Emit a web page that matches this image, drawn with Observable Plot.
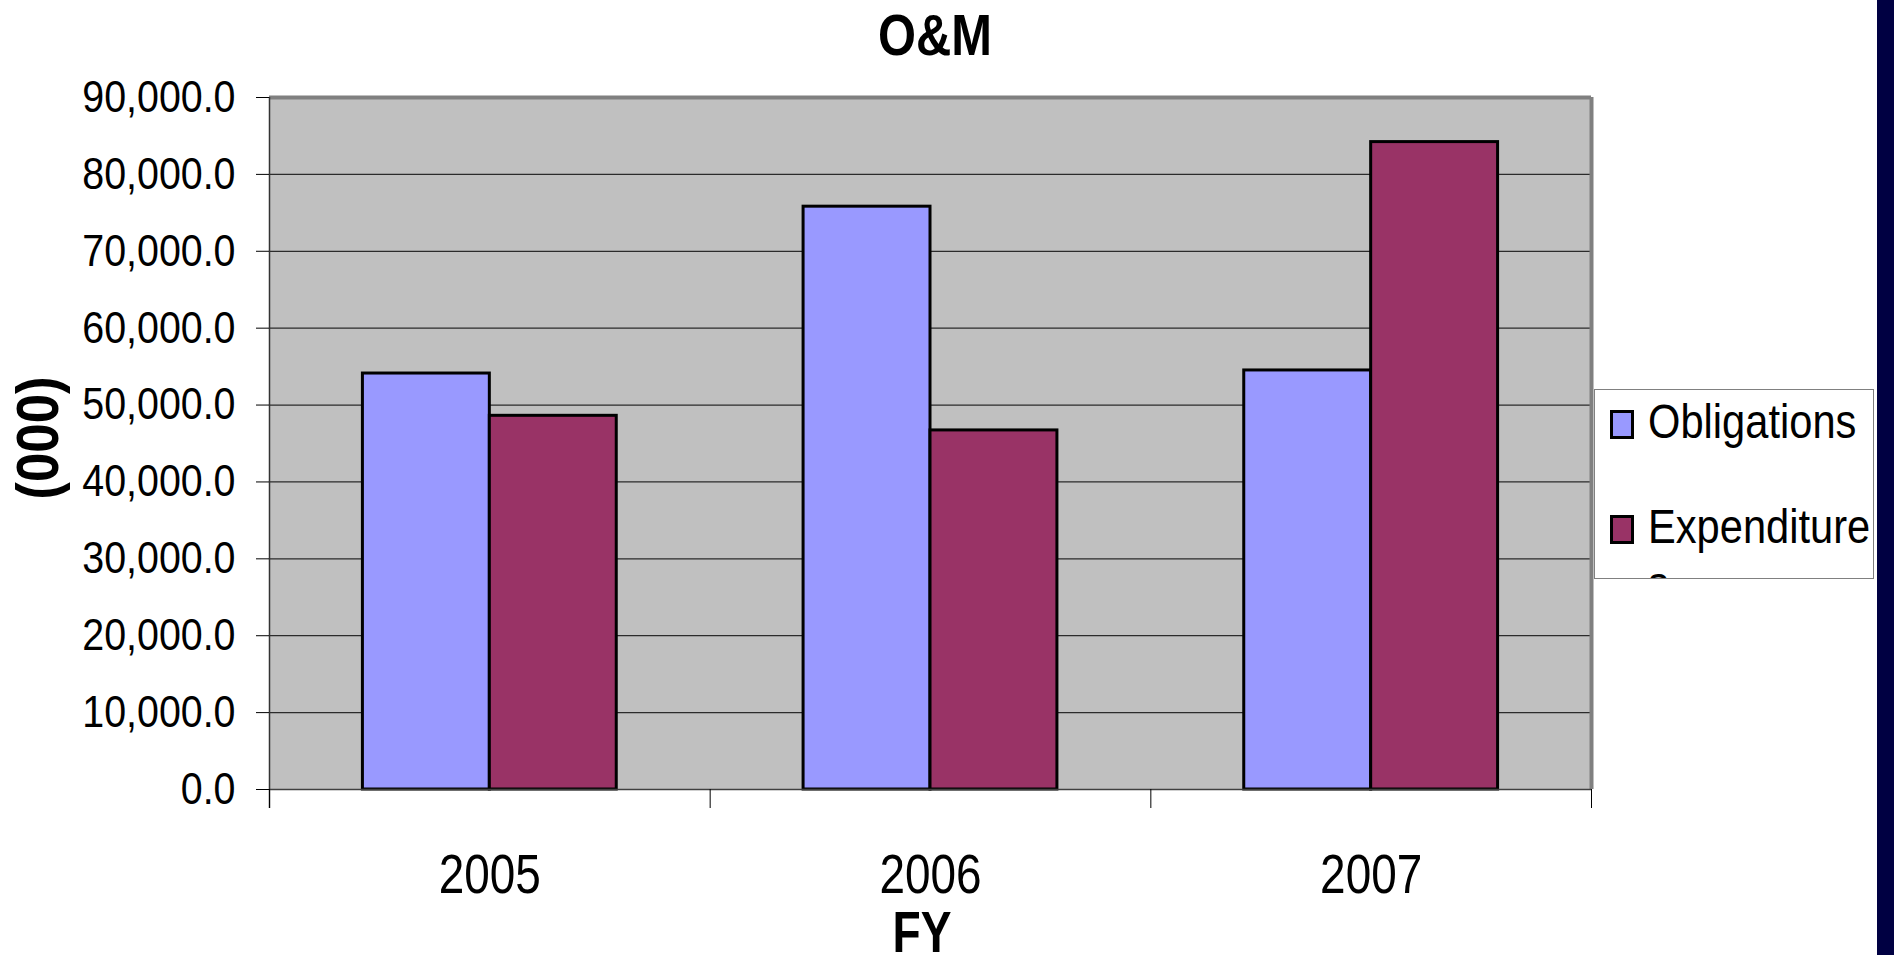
<!DOCTYPE html>
<html>
<head>
<meta charset="utf-8">
<script src="https://cdn.jsdelivr.net/npm/d3@7"></script>
<script src="https://cdn.jsdelivr.net/npm/@observablehq/plot@0.6"></script>
<style>
  html, body { margin: 0; padding: 0; background: #fff; }
  #wrap { position: relative; width: 1894px; height: 955px; overflow: hidden; background: #fff;
          font-family: "Liberation Sans", Arial, sans-serif; color: #000; }
  #chart { position: absolute; left: 0; top: 0; }
  #strip { position: absolute; left: 1877px; top: 0; width: 17px; height: 955px; background: #000042; }
  #title { position: absolute; left: 0; width: 1870px; top: 7px; text-align: center;
           font-weight: bold; font-size: 57px; line-height: 1; white-space: nowrap;
           transform: scaleX(0.857); transform-origin: 50% 50%; }
  #xlabel { position: absolute; left: 722px; width: 400px; top: 912px; text-align: center;
            font-weight: bold; font-size: 57px; line-height: 40px; white-space: nowrap;
            transform: scaleX(0.81); transform-origin: 50% 50%; }
  #ylabel { position: absolute; left: 38px; top: 438px;
            transform: translate(-50%, -50%) rotate(-90deg) scaleX(0.88);
            font-weight: bold; font-size: 60px; line-height: 1; white-space: nowrap; }
  #legend { position: absolute; left: 1594px; top: 389px; width: 280px; height: 190px;
            box-sizing: border-box; border: 1px solid #808080; background: #fff; overflow: hidden; }
  .sw { position: absolute; left: 15px; width: 24px; height: 29px; box-sizing: border-box; border: 3px solid #000; }
  .lt { position: absolute; left: 53px; font-size: 49px; line-height: 57px; width: 270px;
        word-break: break-all; transform: scaleX(0.85); transform-origin: 0 0; }
</style>
</head>
<body>
<div id="wrap">
  <div id="chart"></div>
  <div id="title"></div>
  <div id="xlabel"></div>
  <div id="ylabel"></div>
  <div id="legend"></div>
  <div id="strip"></div>
</div>
<script>
// ---- data ----
const chartTitle = "O&M";
const xTitle = "FY";
const yTitle = "(000)";
const years = ["2005", "2006", "2007"];
const series = ["Obligations", "Expenditures"];
const obligations = [54100, 75800, 54500];
const expenditures = [48600, 46700, 84200];
const yTicks = [0, 10000, 20000, 30000, 40000, 50000, 60000, 70000, 80000, 90000];
const seriesColors = ["#9999ff", "#993366"];

// ---- table ----
const values = {Obligations: obligations, Expenditures: expenditures};
const rows = years.flatMap((year, i) => series.map(s => ({year, idx: i, series: s, value: values[s][i]})));

// position of each series inside its year band (in data units of the year index)
const inner = d3.scaleBand().domain(series).range([0, 1]).paddingInner(0).paddingOuter(0.736);

const fontFamily = '"Liberation Sans", Arial, sans-serif';

const plot = Plot.plot({
  width: 1877,
  height: 955,
  marginTop: 97,
  marginLeft: 269,
  marginRight: 286,
  marginBottom: 166,
  style: {fontFamily, background: "transparent", color: "#000", overflow: "visible"},
  x: {type: "linear", domain: [0, years.length], label: null},
  y: {domain: [0, 90000], label: null},
  color: {domain: series, range: seriesColors},
  marks: [
    Plot.frame({fill: "#c0c0c0", stroke: null}),
    Plot.ruleY(yTicks.filter(d => d > 0 && d < 90000), {stroke: "#2b2b2b", strokeWidth: 1.3}),
    Plot.ruleY([90000], {stroke: "#808080", strokeWidth: 4}),
    Plot.ruleX([years.length], {stroke: "#808080", strokeWidth: 4}),
    Plot.rectY(rows, {
      x1: d => d.idx + inner(d.series),
      x2: d => d.idx + inner(d.series) + inner.bandwidth(),
      y1: 0,
      y2: "value",
      fill: "series",
      stroke: "#000",
      strokeWidth: 3
    }),
    Plot.ruleY([0], {stroke: "#404040", strokeWidth: 1.5}),
    Plot.ruleX([0], {stroke: "#333", strokeWidth: 1.5, insetBottom: -19}),
    Plot.axisY(yTicks, {
      tickSize: 13, tickPadding: 21, fontSize: 45, label: null,
      tickFormat: d3.format(",.1f")
    }),
    Plot.axisX(years.map((d, i) => i + 0.5), {
      tickSize: 0, tickPadding: 64, fontSize: 56, label: null,
      tickFormat: d => years[Math.floor(d)]
    }),
    Plot.axisX(d3.range(years.length + 1), {
      tickSize: 19, label: null, tickFormat: () => ""
    })
  ]
});

// narrow the Arial-like glyphs horizontally, as in the reference, about each text's anchor
plot.querySelectorAll("text").forEach(t => {
  const s = t.textContent.trim();
  if (!s) return;
  const k = /^\d{4}$/.test(s) ? 0.82 : 0.875;
  const tr = t.getAttribute("transform") || "";
  t.setAttribute("transform", (tr + ` scale(${k},1)`).trim());
});

document.getElementById("chart").appendChild(plot);

document.getElementById("title").textContent = chartTitle;
document.getElementById("xlabel").textContent = xTitle;
document.getElementById("ylabel").textContent = yTitle;

// legend
const legend = document.getElementById("legend");
const swTops = [20, 125];
const txtTops = [3, 108];
series.forEach((s, i) => {
  const sw = document.createElement("div");
  sw.className = "sw";
  sw.style.top = swTops[i] + "px";
  sw.style.background = seriesColors[i];
  legend.appendChild(sw);
  const t = document.createElement("div");
  t.className = "lt";
  t.style.top = txtTops[i] + "px";
  t.textContent = s;
  legend.appendChild(t);
});
</script>
</body>
</html>
